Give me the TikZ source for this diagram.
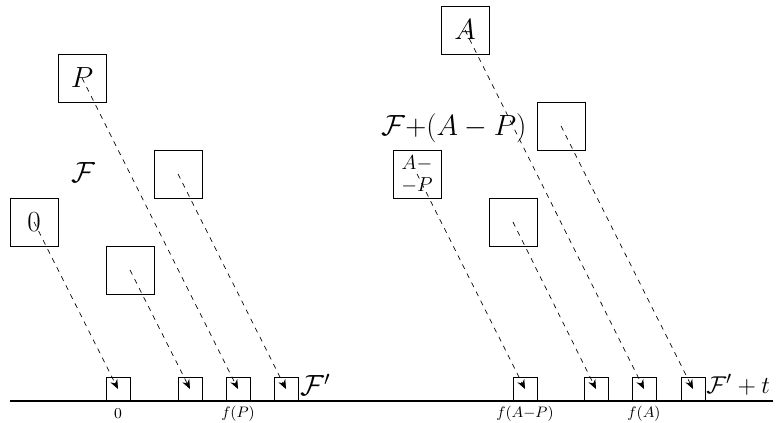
\documentclass[tikz,border=0pt]{standalone}
\usetikzlibrary{arrows.meta}
\begin{document}
\begin{tikzpicture}[x=0.0208333cm,y=-0.0208333cm,
  bigbox/.style={draw,minimum size=1cm,inner sep=0pt,font=\fontsize{16}{18}\selectfont},
  smallbox/.style={draw,minimum size=0.5cm,inner sep=0pt},
  lbl/.style={inner sep=0pt,font=\fontsize{16.5}{18}\selectfont},
  tick/.style={inner sep=0pt,font=\fontsize{9.5}{11}\selectfont},
  map/.style={dashed,-{Stealth[length=5.5pt,width=4.5pt]}}]
\useasboundingbox (0,0) rectangle (778,423);
% big boxes, left
\node[bigbox] (zero) at (34,222) {$0$};
\node[bigbox] (P) at (82,78) {$P$};
\node[bigbox] (L3) at (130,270) {};
\node[bigbox] (L4) at (178,174) {};
\node[lbl] (F) at (83,173) {$\mathcal{F}$};
% big boxes, right
\node[bigbox,align=center,font=\fontsize{12.5}{13}\selectfont] (AP) at (417,174) {$A-$\\$-P$};
\node[bigbox] (A) at (465,30) {$A$};
\node[bigbox] (R3) at (513,222) {};
\node[bigbox] (R4) at (561,126) {};
\node[lbl] (FAP) at (454,128) {$\mathcal{F}{+}(A-P)$};
% axis
\coordinate (axL) at (10,401);
\coordinate (axR) at (773,401);
\draw[line width=1.2pt] (axL) -- (axR);
% small boxes
\node[smallbox] (s1) at (118,389) {};
\node[smallbox] (s2) at (190,389) {};
\node[smallbox] (s3) at (238,389) {};
\node[smallbox] (s4) at (286,389) {};
\node[smallbox] (t1) at (525,389) {};
\node[smallbox] (t2) at (596,389) {};
\node[smallbox] (t3) at (644,389) {};
\node[smallbox] (t4) at (693,389) {};
\node[lbl,anchor=west] (Fp) at (300,385) {$\mathcal{F}'$};
\node[lbl,anchor=west,font=\fontsize{15.5}{18}\selectfont] (Fpt) at (706,385) {$\mathcal{F}'+t$};
% tick labels
\node[tick] (l0) at (118,414) {$0$};
\node[tick] (lP) at (238,414) {$f(P)$};
\node[tick] (lAP) at (525,414) {$f(A{-}P)$};
\node[tick] (lA) at (644,414) {$f(A)$};
% maps
\draw[map] (zero.center) -- (s1.center);
\draw[map] (P.center) -- (s3.center);
\draw[map] (L3.center) -- (s2.center);
\draw[map] (L4.center) -- (s4.center);
\draw[map] (AP.center) -- (t1.center);
\draw[map] (A.center) -- (t3.center);
\draw[map] (R3.center) -- (t2.center);
\draw[map] (R4.center) -- (t4.center);
\end{tikzpicture}
\end{document}
